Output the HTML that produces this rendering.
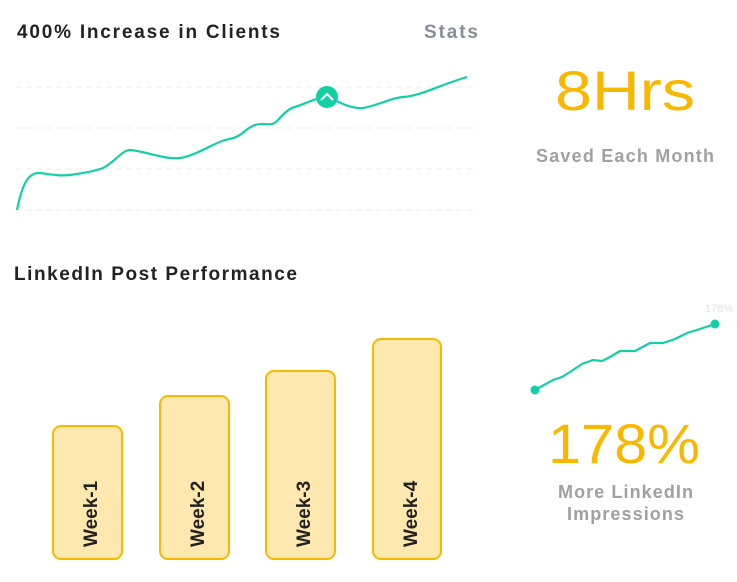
<!DOCTYPE html>
<html><head><meta charset="utf-8"><style>
body{margin:0;background:#fff;width:737px;height:577px;overflow:hidden;font-family:"Liberation Sans",sans-serif}
</style></head><body>
<svg width="737" height="577" viewBox="0 0 737 577" xmlns="http://www.w3.org/2000/svg" font-family="Liberation Sans, sans-serif">
<text x="17" y="38" font-size="19" font-weight="bold" fill="#222" textLength="263" lengthAdjust="spacing">400% Increase in Clients</text>
<text x="424" y="38" font-size="19" font-weight="bold" fill="#888d96" textLength="54" lengthAdjust="spacing">Stats</text>
<g stroke="#eeeeee" stroke-width="1" stroke-dasharray="6,4">
<line x1="16" y1="87" x2="477" y2="87"/><line x1="16" y1="128" x2="477" y2="128"/>
<line x1="16" y1="169" x2="477" y2="169"/><line x1="16" y1="210" x2="477" y2="210"/>
</g>
<path d="M17,210 C22,185 28,172 40,173 C55,175 60,176 70,175 C85,173 95,171 103,168 C115,162 122,150 130,150 C145,151 165,160 180,158 C195,156 212,144 225,140 C235,138 238,137 245,131 C252,125 257,124 262,124 C270,124 272,126 278,120 C285,112 290,108 295,107 C305,104 315,98 327,97 C340,102 350,109 363,108 C380,105 390,98 403,97 C420,96 440,85 467,77" fill="none" stroke="#14cfa4" stroke-width="2.2"/>
<circle cx="327" cy="97" r="11" fill="#14cfa4"/>
<path d="M321,100 L327,94 L333,100" fill="none" stroke="#fff" stroke-width="2"/>
<text x="555" y="110" font-size="56" fill="#f9b800" textLength="140" lengthAdjust="spacingAndGlyphs">8Hrs</text>
<text x="536" y="162" font-size="18" font-weight="bold" fill="#a0a0a0" textLength="178" lengthAdjust="spacing">Saved Each Month</text>
<text x="14" y="280" font-size="19" font-weight="bold" fill="#222" textLength="283" lengthAdjust="spacing">LinkedIn Post Performance</text>
<g fill="#fde8b0" stroke="#f9b800" stroke-width="2">
<rect x="53" y="426" width="69" height="133" rx="8"/>
<rect x="160" y="396" width="69" height="163" rx="8"/>
<rect x="266" y="371" width="69" height="188" rx="8"/>
<rect x="373" y="339" width="68" height="220" rx="8"/>
</g>
<g font-size="19" font-weight="bold" fill="#222">
<text transform="translate(97,547) rotate(-90)">Week-1</text>
<text transform="translate(204,547) rotate(-90)">Week-2</text>
<text transform="translate(310,547) rotate(-90)">Week-3</text>
<text transform="translate(417,547) rotate(-90)">Week-4</text>
</g>
<text x="733" y="312" font-size="11" fill="#e2e2e2" text-anchor="end">178%</text>
<polyline points="535,390 553,380 562,377 570,372 582,364 593,360 602,361 610,357 620,351 635,351 650,343 663,343 675,339 687,333 700,329 715,324" fill="none" stroke="#14cfa4" stroke-width="2.2"/>
<circle cx="535" cy="390" r="4.5" fill="#14cfa4"/><circle cx="715" cy="324" r="4.5" fill="#14cfa4"/>
<text x="548" y="463" font-size="56" fill="#f9b800" textLength="152" lengthAdjust="spacingAndGlyphs">178%</text>
<text x="558" y="498" font-size="18" font-weight="bold" fill="#a0a0a0" textLength="135" lengthAdjust="spacing">More LinkedIn</text>
<text x="567" y="520" font-size="18" font-weight="bold" fill="#a0a0a0" textLength="117" lengthAdjust="spacing">Impressions</text>
</svg>
</body></html>
